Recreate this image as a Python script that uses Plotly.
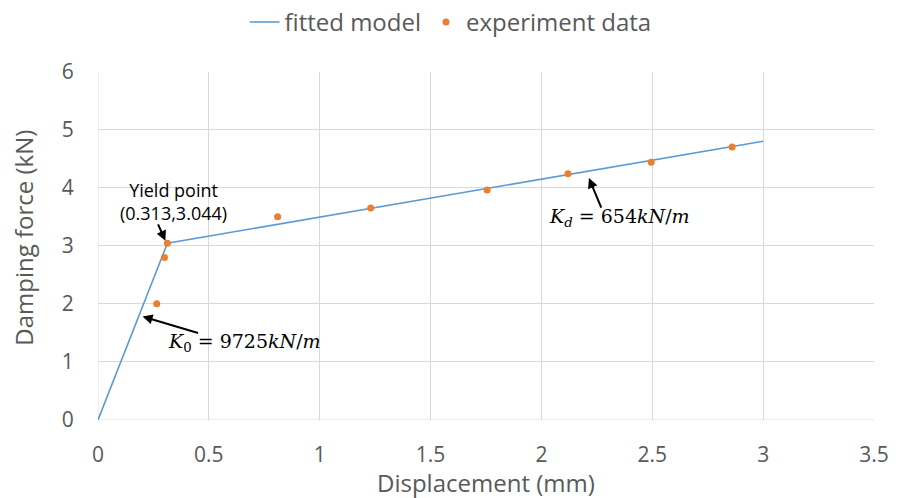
import plotly.graph_objects as go

# Data
model_x = [0, 0.313, 3.0]
model_y = [0, 3.044, 4.801]
exp_x = [0.265, 0.300, 0.313, 0.81, 1.23, 1.755, 2.12, 2.495, 2.86]
exp_y = [2.00, 2.80, 3.044, 3.50, 3.65, 3.96, 4.24, 4.44, 4.70]
x_ticks = [0, 0.5, 1, 1.5, 2, 2.5, 3, 3.5]
y_ticks = [0, 1, 2, 3, 4, 5, 6]

fig = go.Figure()
fig.add_trace(go.Scatter(x=model_x, y=model_y, mode="lines", name="fitted model",
                         line=dict(color="#5b9bd5", width=1.6)))
fig.add_trace(go.Scatter(x=exp_x, y=exp_y, mode="markers", name="experiment data",
                         marker=dict(color="#ed7d31", size=7)))

font_main = "Open Sans, DejaVu Sans, sans-serif"
grey = "#595959"
math_font = dict(family="DejaVu Serif, Liberation Serif, serif", size=19, color="black")
arrow = dict(showarrow=True, arrowhead=2, arrowsize=1, arrowwidth=2, arrowcolor="black", text="")

# Yield point label and arrow
fig.add_annotation(x=0.339, y=3.77, xref="x", yref="y", showarrow=False,
                   text="Yield point<br>(0.313,3.044)",
                   font=dict(family=font_main, size=18, color="black"))
fig.add_annotation(x=0.304, y=3.086, xref="x", yref="y", ax=-8, ay=-18, **arrow)
# K0 label and arrow
fig.add_annotation(x=0.201, y=1.783, xref="x", yref="y", ax=57, ay=17, **arrow)
fig.add_annotation(x=0.308, y=1.34, xref="x", yref="y", xanchor="left", showarrow=False,
                   text="<i>K</i><sub>0</sub> = 9725<i>kN</i>/<i>m</i>", font=math_font)
# Kd label and arrow
fig.add_annotation(x=2.214, y=4.166, xref="x", yref="y", ax=13, ay=31, **arrow)
fig.add_annotation(x=2.027, y=3.48, xref="x", yref="y", xanchor="left", showarrow=False,
                   text="<i>K</i><sub><i>d</i></sub> = 654<i>kN</i>/<i>m</i>", font=math_font)

# Axis titles
fig.add_annotation(x=0.5, y=0, xref="paper", yref="paper", yanchor="middle", yshift=-62,
                   showarrow=False, text="Displacement (mm)",
                   font=dict(family=font_main, size=24, color=grey))
fig.add_annotation(x=0, y=0.523, xref="paper", yref="paper", xanchor="center", xshift=-74,
                   textangle=-90, showarrow=False, text="Damping force (kN)",
                   font=dict(family=font_main, size=24, color=grey))

axis_common = dict(showgrid=True, gridcolor="#d9d9d9", gridwidth=1, zeroline=False,
                   showline=False, ticks="outside", tickcolor="rgba(0,0,0,0)",
                   tickfont=dict(family=font_main, size=21, color=grey))

fig.update_layout(
    width=901, height=498,
    margin=dict(l=98, r=19, t=70, b=78),
    plot_bgcolor="white", paper_bgcolor="white",
    font=dict(family=font_main, color=grey),
    showlegend=True,
    legend=dict(orientation="h", xref="container", yref="container", x=0.5, xanchor="center",
                y=0.955, yanchor="middle",
                font=dict(family=font_main, size=24, color=grey), itemwidth=30),
    xaxis=dict(range=[0, 3.5], tickvals=x_ticks, ticktext=[str(v) for v in x_ticks],
               ticklen=16, **axis_common),
    yaxis=dict(range=[0, 6], tickvals=y_ticks, ticklen=19, **axis_common),
)
fig.add_shape(type="line", xref="x", yref="y", x0=0, x1=3.5, y0=0, y1=0,
              line=dict(color="#d9d9d9", width=1), layer="below")
fig.add_shape(type="line", xref="x", yref="y", x0=0, x1=0, y0=0, y1=6,
              line=dict(color="#d9d9d9", width=1), layer="below")

fig.write_html("out.html")
